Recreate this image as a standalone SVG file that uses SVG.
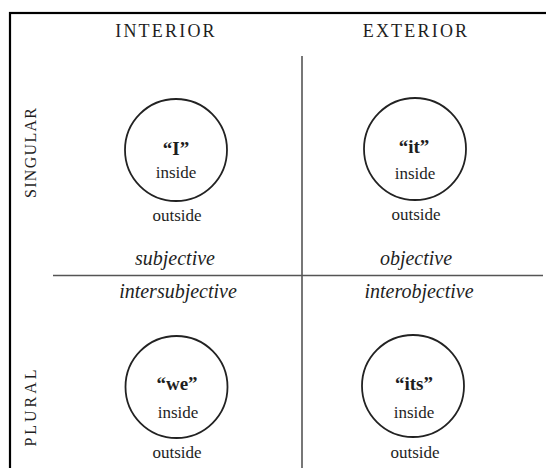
<svg xmlns="http://www.w3.org/2000/svg" width="546" height="468" viewBox="0 0 546 468">
<style>
  text { font-family: "Liberation Serif", "Times New Roman", serif; fill: #1e1e1e; text-anchor: middle; }
  .cap { font-size: 18px; letter-spacing: 2.2px; }
  .vcap { font-size: 16px; }
  .lbl { font-size: 19px; font-weight: bold; }
  .io { font-size: 17px; }
  .it { font-size: 20px; font-style: italic; }
  .circ { fill: none; stroke: #222; stroke-width: 1.8; }
  .div { stroke: #555; stroke-width: 1.6; fill: none; }
</style>
<rect x="0" y="0" width="546" height="468" fill="#fff"/>
<rect id="frame" x="10" y="13" width="545" height="470" fill="none" stroke="#000" stroke-width="2.2"/>

<g id="headings">
  <text class="cap" x="166" y="37">INTERIOR</text>
  <text class="cap" x="416" y="37">EXTERIOR</text>
  <text class="vcap" transform="translate(35.5,153) rotate(-90)" textLength="90" lengthAdjust="spacing">SINGULAR</text>
  <text class="vcap" transform="translate(36,408) rotate(-90)" textLength="77" lengthAdjust="spacing">PLURAL</text>
</g>

<g id="connectors">
  <line class="div" x1="302" y1="56" x2="302" y2="468"/>
  <line class="div" x1="53" y1="275.5" x2="543" y2="275.5"/>
</g>

<g id="node-I">
  <circle class="circ" cx="176" cy="150" r="51"/>
  <text class="lbl" x="176" y="155">“I”</text>
  <text class="io" x="176" y="178">inside</text>
  <text class="io" x="177" y="221">outside</text>
  <text class="it" x="175" y="265">subjective</text>
</g>

<g id="node-it">
  <circle class="circ" cx="415" cy="149" r="51"/>
  <text class="lbl" x="414" y="153">“it”</text>
  <text class="io" x="415" y="179">inside</text>
  <text class="io" x="416" y="220">outside</text>
  <text class="it" x="416" y="265">objective</text>
</g>

<g id="node-we">
  <text class="it" x="178" y="298">intersubjective</text>
  <circle class="circ" cx="176.5" cy="387" r="51"/>
  <text class="lbl" x="177" y="390">“we”</text>
  <text class="io" x="178" y="418">inside</text>
  <text class="io" x="177" y="458">outside</text>
</g>

<g id="node-its">
  <text class="it" x="419" y="298">interobjective</text>
  <circle class="circ" cx="413" cy="386" r="51"/>
  <text class="lbl" x="414" y="390">“its”</text>
  <text class="io" x="414" y="418">inside</text>
  <text class="io" x="415" y="458">outside</text>
</g>
</svg>
